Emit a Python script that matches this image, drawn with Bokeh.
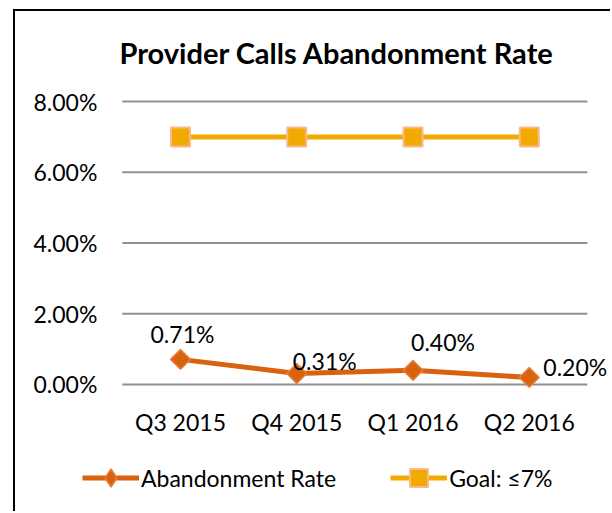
import math
from bokeh.plotting import figure
from bokeh.models import (ColumnDataSource, Range1d, NumeralTickFormatter, Legend, LegendItem,
                          FixedTicker, LabelSet)
from bokeh.core.properties import value
from bokeh.embed import file_html
from bokeh.resources import INLINE

# ---- data ----
categories = ["Q3 2015", "Q4 2015", "Q1 2016", "Q2 2016"]
abandonment_rate = [0.0071, 0.0031, 0.0040, 0.0020]
goal_rate = [0.07, 0.07, 0.07, 0.07]
y_ticks = [0.0, 0.02, 0.04, 0.06, 0.08]
series_names = ["Abandonment Rate", "Goal: \u22647%"]
title_text = "Provider Calls Abandonment Rate"

# label placement (styling, px)
label_dx = [2, 28, 30, 46]
label_dy = [25, 13, 28, 10]

FONT = "Lato"
FS = "23px"
ORANGE = "#D9620F"
ORANGE_EDGE = "#E57F3A"
GOLD = "#F2A900"
GOLD_EDGE = "#F8B98E"
GRID = "#8F8F8F"

n = len(categories)
x_idx = list(range(n))
band_lo, band_hi = -0.5, n - 0.5   # outer edges of the category bands

src = ColumnDataSource(dict(
    x=x_idx, rate=abandonment_rate, goal=goal_rate,
    lbl=["{:.2f}%".format(v * 100) for v in abandonment_rate],
    dx=label_dx, dy=label_dy,
))
grid_src = ColumnDataSource(dict(x0=[band_lo] * len(y_ticks), x1=[band_hi] * len(y_ticks), y=y_ticks))

p = figure(width=597, height=502, output_backend="svg", toolbar_location=None,
           x_range=Range1d(-1.419, 3.716), y_range=Range1d(-0.03647, 0.08311),
           min_border_left=0, min_border_right=0, min_border_top=79, min_border_bottom=0)
p.styles = {"border-left": "2px solid black", "border-top": "2px solid black",
            "margin-left": "13px", "margin-top": "9px"}

p.background_fill_color = "white"
p.border_fill_color = "white"
p.outline_line_color = None
p.xgrid.visible = False
p.ygrid.visible = False

# title
p.title.text = title_text
p.title.text_font = FONT
p.title.text_font_style = "bold"
p.title.text_font_size = "29px"
p.title.align = "left"
p.title.offset = 104
p.title.text_color = "black"
p.title.standoff = 42

# axes (drawn inside the plot area at the band edge / zero line)
p.yaxis.ticker = FixedTicker(ticks=y_ticks)
p.yaxis.formatter = NumeralTickFormatter(format="0.00%")
p.yaxis.fixed_location = band_lo
p.xaxis.ticker = FixedTicker(ticks=x_idx)
p.xaxis.major_label_overrides = {i: c for i, c in zip(x_idx, categories)}
p.xaxis.fixed_location = 0
for ax in (p.xaxis[0], p.yaxis[0]):
    ax.axis_line_color = None
    ax.major_tick_line_color = None
    ax.minor_tick_line_color = None
    ax.major_tick_out = 0
    ax.major_tick_in = 0
    ax.minor_tick_out = 0
    ax.major_label_text_font = FONT
    ax.major_label_text_font_size = FS
    ax.major_label_text_color = "black"
p.yaxis.major_label_standoff = 25
p.xaxis.major_label_standoff = 24

# horizontal gridlines across the category bands
p.segment(x0="x0", x1="x1", y0="y", y1="y", source=grid_src, line_color=GRID, line_width=2)

# series
l_goal = p.line("x", "goal", source=src, line_color=GOLD, line_width=5)
s_goal = p.scatter("x", "goal", source=src, marker="square", size=19,
                   fill_color=GOLD, line_color=GOLD_EDGE, line_width=2)
l_rate = p.line("x", "rate", source=src, line_color=ORANGE, line_width=5)
# diamond glyph used for the legend key (hidden beneath the rotated-square markers)
d_rate = p.scatter("x", "rate", source=src, marker="diamond", size=14,
                   fill_color=ORANGE, line_color=ORANGE_EDGE, line_width=1.5)
s_rate = p.scatter("x", "rate", source=src, marker="square", angle=math.pi / 4, size=14,
                   fill_color=ORANGE, line_color=ORANGE_EDGE, line_width=1.5)

labels = LabelSet(x="x", y="rate", text="lbl", source=src, x_offset="dx", y_offset="dy",
                  text_align="center", text_baseline="middle",
                  text_font=value(FONT), text_font_size=FS, text_color="black")
p.add_layout(labels)

legend = Legend(items=[LegendItem(label=series_names[0], renderers=[l_rate, d_rate]),
                       LegendItem(label=series_names[1], renderers=[l_goal, s_goal])],
                orientation="horizontal", location=(67, 13),
                glyph_width=57, glyph_height=45, label_standoff=2, spacing=54,
                padding=0, margin=0, border_line_color=None, background_fill_alpha=0,
                label_text_font=FONT, label_text_font_size=FS, label_text_color="black")
p.add_layout(legend, "center")

open("out.html", "w").write(file_html(p, INLINE))
